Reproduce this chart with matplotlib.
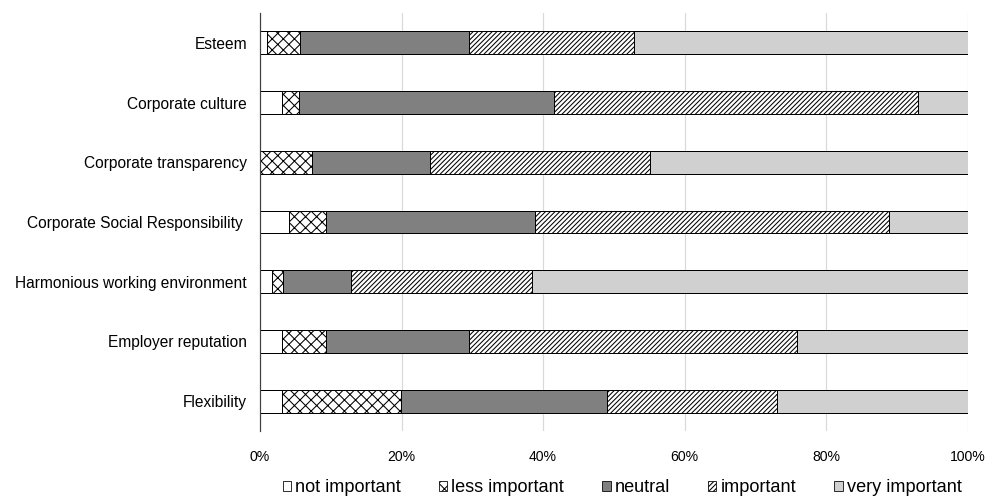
import matplotlib
matplotlib.use("Agg")
import matplotlib.pyplot as plt
import numpy as np

categories = ["Esteem", "Corporate culture", "Corporate transparency",
              "Corporate Social Responsibility ", "Harmonious working environment",
              "Employer reputation", "Flexibility"]
series_names = ["not important", "less important", "neutral", "important", "very important"]
not_important = [0.95, 3.15, 0.0, 4.1, 1.75, 3.15, 3.15]
less_important = [4.65, 2.4, 7.4, 5.2, 1.5, 6.15, 16.75]
neutral = [24.0, 36.05, 16.6, 29.6, 9.65, 20.3, 29.1]
important = [23.2, 51.4, 31.1, 50.0, 25.5, 46.3, 24.1]
very_important = [47.2, 7.0, 44.9, 11.1, 61.6, 24.1, 26.9]
x_ticks = [0, 20, 40, 60, 80, 100]
x_tick_labels = ["0%", "20%", "40%", "60%", "80%", "100%"]

DPI = 100
def px2pt(px):
    return px * 72.0 / DPI

plt.rcParams['font.family'] = ['Liberation Sans', 'DejaVu Sans']
plt.rcParams['hatch.linewidth'] = 0.75

fig = plt.figure(figsize=(9.93, 4.97), dpi=DPI)
ax = fig.add_axes([260 / 993, 1 - 431 / 497, (967.5 - 260) / 993, (431 - 13) / 497])

styles = [
    dict(color="white", hatch=None),
    dict(color="white", hatch="xxx"),
    dict(color="#808080", hatch=None),
    dict(color="white", hatch="///////"),
    dict(color="#d0d0d0", hatch=None),
]
data = [not_important, less_important, neutral, important, very_important]
y = np.arange(len(categories))[::-1]
left = np.zeros(len(categories))
handles = []
for name, vals, st in zip(series_names, data, styles):
    vals = np.array(vals)
    b = ax.barh(y, vals, left=left, height=0.385, color=st["color"], hatch=st["hatch"],
                edgecolor="black", linewidth=px2pt(1.0), label=name, zorder=3)
    left = left + vals
    handles.append(b)

ax.set_xlim(0, 100)
ax.set_ylim(-0.5, len(categories) - 0.5)
ax.set_yticks(y)
ax.set_yticklabels(categories, fontsize=px2pt(15.5))
ax.set_xticks(x_ticks)
ax.set_xticklabels(x_tick_labels, fontsize=px2pt(14))
ax.tick_params(axis="y", length=0, pad=px2pt(13))
ax.tick_params(axis="x", length=0, pad=px2pt(19))
ax.xaxis.grid(True, color="#d9d9d9", linewidth=px2pt(1.2), zorder=0)
ax.set_axisbelow(True)
for s in ["top", "right", "bottom"]:
    ax.spines[s].set_visible(False)
ax.spines["left"].set_color("#404040")
ax.spines["left"].set_linewidth(px2pt(1.2))
ax.spines["left"].set_zorder(4)

leg_px = 18.2
leg = fig.legend(handles=handles, labels=series_names, loc="center",
                 bbox_to_anchor=(622 / 993, 1 - 488 / 497), ncol=5, frameon=False,
                 fontsize=px2pt(leg_px), handlelength=8.5 / leg_px,
                 handleheight=8.5 / leg_px, handletextpad=4 / leg_px,
                 columnspacing=38 / leg_px, borderpad=0, borderaxespad=0)
for h in leg.legend_handles:
    h.set_linewidth(px2pt(0.8))

fig.savefig("out.png", dpi=DPI, facecolor="white")
